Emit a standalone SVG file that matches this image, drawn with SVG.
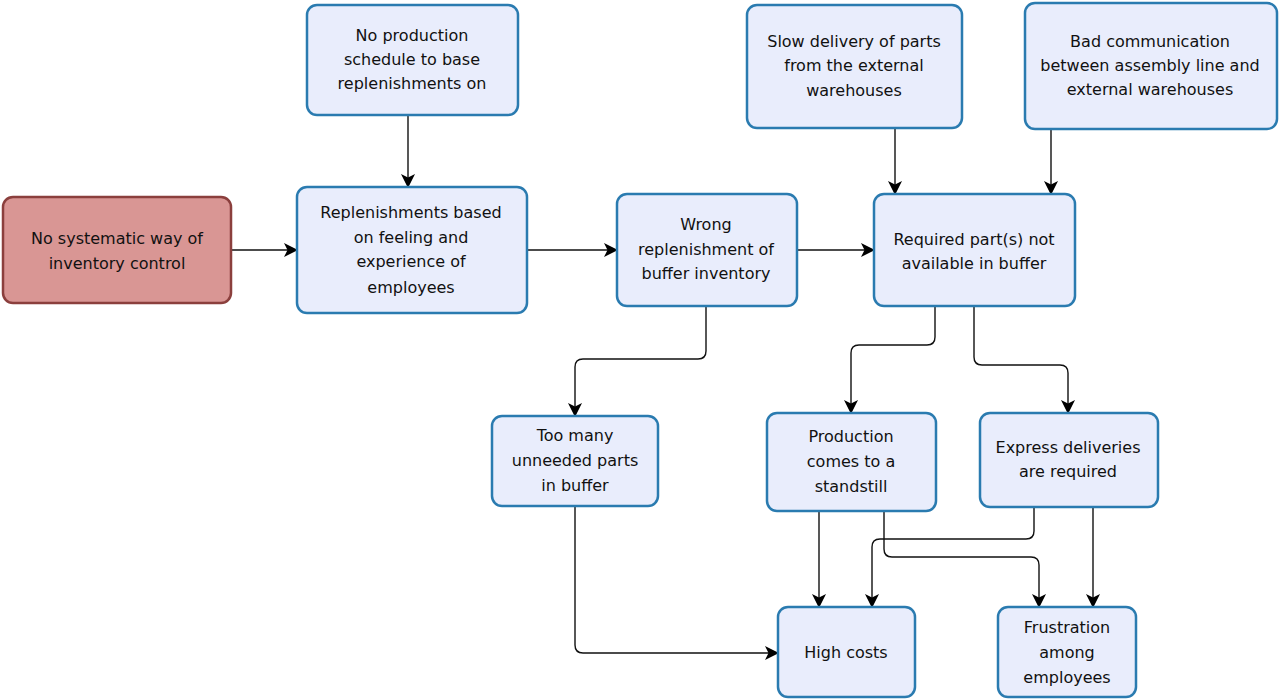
<svg xmlns="http://www.w3.org/2000/svg" width="1279" height="700" viewBox="0 0 1279 700">
  <defs>
    <marker id="arrow" viewBox="0 0 14 14" refX="13" refY="7" markerWidth="14" markerHeight="14" markerUnits="userSpaceOnUse" orient="auto">
      <path d="M0,0 L14,7 L0,14 L3.5,7 Z" fill="#000"/>
    </marker>
    <style>
      .box { fill: #e9edfc; stroke: #2a7bb0; stroke-width: 2.5; }
      .root { fill: #d99694; stroke: #8b3f3d; stroke-width: 2.5; }
      .lbl { font-family: "DejaVu Sans", Verdana, sans-serif; font-size: 16px; fill: #111; text-anchor: middle; }
      .edge { fill: none; stroke: #111; stroke-width: 1.4; marker-end: url(#arrow); }
    </style>
  </defs>
  <rect width="1279" height="700" fill="#fff"/>

  <g id="connectors">
    <path class="edge" d="M231,250 H297"/>
    <path class="edge" d="M408,115 V187"/>
    <path class="edge" d="M527,250 H617"/>
    <path class="edge" d="M797,250 H874"/>
    <path class="edge" d="M895,128 V194"/>
    <path class="edge" d="M1051,129 V194"/>
    <path class="edge" d="M706,306 V351 Q706,359 698,359 H583 Q575,359 575,367 V416"/>
    <path class="edge" d="M935,306 V337 Q935,345 927,345 H859 Q851,345 851,353 V413"/>
    <path class="edge" d="M974,306 V357 Q974,365 982,365 H1060 Q1068,365 1068,373 V413"/>
    <path class="edge" d="M819,511 V607"/>
    <path class="edge" d="M884,511 V549 Q884,557 892,557 H1031 Q1039,557 1039,565 V607"/>
    <path class="edge" d="M1034,507 V531 Q1034,539 1026,539 H880 Q872,539 872,547 V607"/>
    <path class="edge" d="M1093,507 V607"/>
    <path class="edge" d="M575,506 V645 Q575,653 583,653 H778"/>
  </g>

  <g id="no-systematic-control">
    <rect class="root" x="3" y="197" width="228" height="106" rx="10"/>
    <text class="lbl" x="117" y="244">No systematic way of</text>
    <text class="lbl" x="117" y="269">inventory control</text>
  </g>

  <g id="no-production-schedule">
    <rect class="box" x="307" y="5" width="211" height="110" rx="10"/>
    <text class="lbl" x="412" y="41">No production</text>
    <text class="lbl" x="412" y="65">schedule to base</text>
    <text class="lbl" x="412" y="89">replenishments on</text>
  </g>

  <g id="replenishments-feeling">
    <rect class="box" x="297" y="187" width="230" height="126" rx="10"/>
    <text class="lbl" x="411" y="218">Replenishments based</text>
    <text class="lbl" x="411" y="243">on feeling and</text>
    <text class="lbl" x="411" y="267">experience of</text>
    <text class="lbl" x="411" y="293">employees</text>
  </g>

  <g id="wrong-replenishment">
    <rect class="box" x="617" y="194" width="180" height="112" rx="10"/>
    <text class="lbl" x="706" y="230">Wrong</text>
    <text class="lbl" x="706" y="255">replenishment of</text>
    <text class="lbl" x="706" y="279">buffer inventory</text>
  </g>

  <g id="slow-delivery">
    <rect class="box" x="747" y="5" width="215" height="123" rx="10"/>
    <text class="lbl" x="854" y="47">Slow delivery of parts</text>
    <text class="lbl" x="854" y="71">from the external</text>
    <text class="lbl" x="854" y="96">warehouses</text>
  </g>

  <g id="bad-communication">
    <rect class="box" x="1025" y="3" width="252" height="126" rx="10"/>
    <text class="lbl" x="1150" y="47">Bad communication</text>
    <text class="lbl" x="1150" y="71">between assembly line and</text>
    <text class="lbl" x="1150" y="95">external warehouses</text>
  </g>

  <g id="parts-not-available">
    <rect class="box" x="874" y="194" width="201" height="112" rx="10"/>
    <text class="lbl" x="974" y="245">Required part(s) not</text>
    <text class="lbl" x="974" y="269">available in buffer</text>
  </g>

  <g id="too-many-parts">
    <rect class="box" x="492" y="416" width="166" height="90" rx="10"/>
    <text class="lbl" x="575" y="441">Too many</text>
    <text class="lbl" x="575" y="466">unneeded parts</text>
    <text class="lbl" x="575" y="491">in buffer</text>
  </g>

  <g id="production-standstill">
    <rect class="box" x="767" y="413" width="169" height="98" rx="10"/>
    <text class="lbl" x="851" y="442">Production</text>
    <text class="lbl" x="851" y="467">comes to a</text>
    <text class="lbl" x="851" y="492">standstill</text>
  </g>

  <g id="express-deliveries">
    <rect class="box" x="980" y="413" width="178" height="94" rx="10"/>
    <text class="lbl" x="1068" y="453">Express deliveries</text>
    <text class="lbl" x="1068" y="477">are required</text>
  </g>

  <g id="high-costs">
    <rect class="box" x="778" y="607" width="137" height="90" rx="10"/>
    <text class="lbl" x="846" y="658">High costs</text>
  </g>

  <g id="frustration">
    <rect class="box" x="998" y="607" width="138" height="90" rx="10"/>
    <text class="lbl" x="1067" y="633">Frustration</text>
    <text class="lbl" x="1067" y="658">among</text>
    <text class="lbl" x="1067" y="683">employees</text>
  </g>
</svg>
